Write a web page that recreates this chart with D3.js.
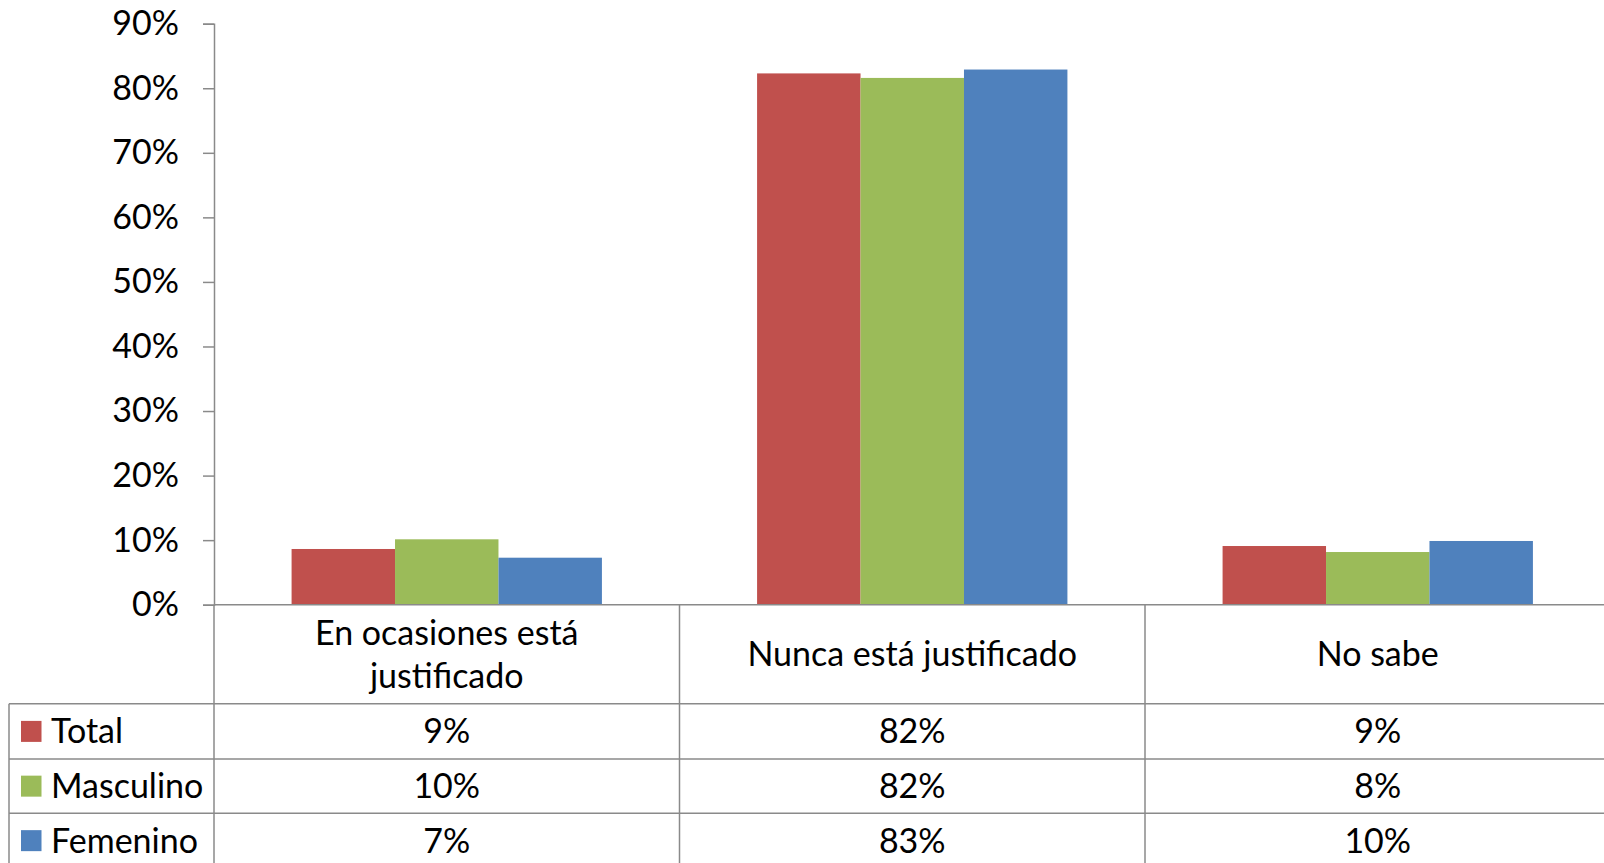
<!DOCTYPE html>
<html>
<head>
<meta charset="utf-8">
<script src="https://cdn.jsdelivr.net/npm/d3@7"></script>
<style>
  html, body { margin: 0; padding: 0; background: #fff; }
  svg { display: block; font-family: Lato, "Open Sans", sans-serif; }
</style>
</head>
<body>
<div id="chart"></div>
<script>
// data
const categories = [["En ocasiones está", "justificado"], ["Nunca está justificado"], ["No sabe"]]
const seriesNames = ["Total", "Masculino", "Femenino"]
const seriesColors = ["#C0504D", "#9BBB59", "#4F81BD"]
const totalValues = [0.0863, 0.823, 0.0909]
const masculinoValues = [0.1013, 0.816, 0.0816]
const femeninoValues = [0.0728, 0.829, 0.0987]
const yTicks = [0, 0.1, 0.2, 0.3, 0.4, 0.5, 0.6, 0.7, 0.8, 0.9]

const allValues = [totalValues, masculinoValues, femeninoValues]

const W = 1604, H = 863
const plotLeft = 214, plotRight = 1610.5
const yTop = 23.7, yZero = 604.7
const rowY = [703.8, 759, 813.3, 868]
const tableLeft = 9
const fontSize = 34
const lineColor = "#8a8a8a"

const svg = d3.select("#chart").append("svg")
  .attr("width", W)
  .attr("height", H)

const x = d3.scaleBand()
  .domain(d3.range(categories.length))
  .range([plotLeft, plotRight])
  .paddingInner(0)
  .paddingOuter(0)

const xs = d3.scaleBand()
  .domain(d3.range(seriesNames.length))
  .range([0, x.bandwidth()])
  .paddingInner(0)
  .paddingOuter(0.75)

const y = d3.scaleLinear()
  .domain([0, 0.9])
  .range([yZero, yTop])

// Y axis
const yAxis = svg.append("g")
  .attr("transform", `translate(${plotLeft},0)`)
  .call(d3.axisLeft(y).tickValues(yTicks).tickFormat(d3.format(".0%")).tickSizeOuter(0).tickSize(11).tickPadding(24))
yAxis.select(".domain").attr("stroke", lineColor).attr("stroke-width", 1.5)
yAxis.selectAll(".tick line").attr("stroke", lineColor).attr("stroke-width", 1.5)
yAxis.selectAll(".tick text")
  .attr("fill", "#000")
  .style("font-size", fontSize + "px")
  .style("font-family", "Lato, sans-serif")

// Bars
const groups = svg.selectAll("g.cat")
  .data(categories.map((c, i) => i))
  .enter()
  .append("g")
    .attr("class", "cat")
    .attr("transform", d => `translate(${x(d)},0)`)

groups.selectAll("rect")
  .data(ci => allValues.map((vals, si) => ({ si, v: vals[ci] })))
  .enter()
  .append("rect")
    .attr("x", d => xs(d.si))
    .attr("width", xs.bandwidth())
    .attr("y", d => y(d.v))
    .attr("height", d => yZero - y(d.v))
    .attr("fill", d => seriesColors[d.si])

// Table lines
const lines = svg.append("g").attr("stroke", lineColor).attr("stroke-width", 1.5)
// x axis / top of table
lines.append("line").attr("x1", plotLeft).attr("x2", plotRight).attr("y1", yZero).attr("y2", yZero)
// vertical column dividers
d3.range(categories.length + 1).forEach(i => {
  const xx = i < categories.length ? x(i) : plotRight
  lines.append("line").attr("x1", xx).attr("x2", xx)
    .attr("y1", yZero).attr("y2", rowY[3])
})
// left edge of legend column
lines.append("line").attr("x1", tableLeft).attr("x2", tableLeft).attr("y1", rowY[0]).attr("y2", rowY[3])
// row lines
rowY.forEach(ry => {
  lines.append("line").attr("x1", tableLeft).attr("x2", plotRight).attr("y1", ry).attr("y2", ry)
})

// Category labels
categories.forEach((lab, i) => {
  const cx = x(i) + x.bandwidth() / 2
  const cy = (yZero + rowY[0]) / 2
  const lh = 43
  lab.forEach((t, j) => {
    svg.append("text")
      .attr("x", cx)
      .attr("y", cy + (j - (lab.length - 1) / 2) * lh)
      .attr("dy", "0.35em")
      .attr("text-anchor", "middle")
      .style("font-size", fontSize + "px")
      .text(t)
  })
})

// Data table rows
const fmt = d3.format(".0%")
seriesNames.forEach((name, si) => {
  const cy = (rowY[si] + rowY[si + 1]) / 2
  svg.append("rect")
    .attr("x", 21).attr("y", cy - 10.5)
    .attr("width", 20.5).attr("height", 21)
    .attr("fill", seriesColors[si])
  svg.append("text")
    .attr("x", 51).attr("y", cy).attr("dy", "0.35em")
    .style("font-size", fontSize + "px")
    .text(name)
  allValues[si].forEach((v, ci) => {
    svg.append("text")
      .attr("x", x(ci) + x.bandwidth() / 2)
      .attr("y", cy).attr("dy", "0.35em")
      .attr("text-anchor", "middle")
      .style("font-size", fontSize + "px")
      .text(fmt(v))
  })
})
</script>
</body>
</html>
